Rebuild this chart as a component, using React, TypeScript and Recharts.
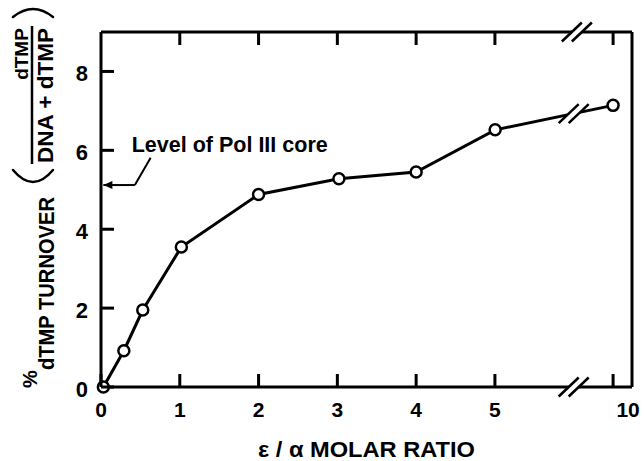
import { Line, LineChart, ReferenceDot, ReferenceLine, XAxis, YAxis } from "recharts";

// ε/α molar ratio vs % dTMP turnover
const ratio = [0.03, 0.29, 0.53, 1.02, 2.0, 3.02, 4.0, 5.01, 10];
const turnover = [0, 0.92, 1.95, 3.55, 4.88, 5.28, 5.45, 6.52, 7.14];
const xTickValues = [0, 1, 2, 3, 4, 5, 10];
const yTickValues = [0, 2, 4, 6, 8];

// x axis is linear up to 5, then squeezed after the break
const breakAt = 5;
const squeeze = 0.3;
const scaleX = (v: number) => (v <= breakAt ? v : breakAt + (v - breakAt) * squeeze);
const xMax = 6.74;
const yMax = 9;

// where the "//" break marks sit (in axis units)
const axisBreakX = 6.0;
const topBreakX = 6.04;
const lineBreak = { x: 6.0, y: 6.93 };

// "Level of Pol III core" arrow
const coreLevel = 5.12;
const arrowTipX = 0.03;
const arrowBendX = 0.43;
const arrowTop = { x: 0.63, y: 5.81 };
const noteAnchor = { x: 0.39, y: 5.97 };

const data = ratio.map((r, i) => ({ px: scaleX(r), turnover: turnover[i] }));
const xTicks = xTickValues.map(scaleX);

const FONT = '"Liberation Sans", Arial, Helvetica, sans-serif';
const ink = "#000";
const TICK = 13;

function tickLabel(v: number) {
  const i = xTicks.findIndex((t) => Math.abs(t - v) < 1e-6);
  return i >= 0 ? String(xTickValues[i]) : "";
}

// ticks point into the frame, so each tick component draws its own mark
function BottomTick({ x, y, payload }: any) {
  const label = tickLabel(payload.value);
  const shift = label === "10" ? 15 : 0;
  return (
    <g>
      <rect x={x - 1.5} y={y - TICK} width={3} height={TICK} fill={ink} />
      <text x={x + shift} y={y + 15} dy="0.71em" textAnchor="middle" fontFamily={FONT} fontWeight={700} fontSize={21} fill={ink}>
        {label}
      </text>
    </g>
  );
}

function TopTick({ x, y }: any) {
  return <rect x={x - 1.5} y={y} width={3} height={TICK} fill={ink} />;
}

function LeftTick({ x, y, payload }: any) {
  return (
    <g>
      <rect x={x} y={y - 1.5} width={TICK} height={3} fill={ink} />
      <text x={x - 13} y={y + 2} dy="0.355em" textAnchor="end" fontFamily={FONT} fontWeight={700} fontSize={22} fill={ink}>
        {payload.value}
      </text>
    </g>
  );
}

function RightTick({ x, y }: any) {
  return <rect x={x - TICK} y={y - 1.5} width={TICK} height={3} fill={ink} />;
}

function BreakMark({ cx, cy }: any) {
  if (cx == null || cy == null) return null;
  return (
    <g>
      <polygon points={`${cx - 15},${cy + 9.5} ${cx - 5},${cy + 9.5} ${cx + 15},${cy - 9.5} ${cx + 5},${cy - 9.5}`} fill="#fff" />
      <line x1={cx - 15} y1={cy + 9.5} x2={cx + 5} y2={cy - 9.5} stroke={ink} strokeWidth={2.5} />
      <line x1={cx - 5} y1={cy + 9.5} x2={cx + 15} y2={cy - 9.5} stroke={ink} strokeWidth={2.5} />
    </g>
  );
}

function ArrowSegment({ x1, y1, x2, y2 }: any) {
  const tipX = Math.min(x1, x2);
  const tipY = tipX === x1 ? y1 : y2;
  return (
    <g>
      <line x1={x1} y1={y1} x2={x2} y2={y2} stroke={ink} strokeWidth={2} />
      <polygon points={`${tipX},${tipY} ${tipX + 9},${tipY - 4} ${tipX + 9},${tipY + 4}`} fill={ink} />
    </g>
  );
}

function Segment({ x1, y1, x2, y2 }: any) {
  return <line x1={x1} y1={y1} x2={x2} y2={y2} stroke={ink} strokeWidth={2} />;
}

function NoteText({ cx, cy }: any) {
  if (cx == null || cy == null) return null;
  return (
    <text x={cx} y={cy} fontFamily={FONT} fontWeight={700} fontSize={22} fill={ink} textLength={196} lengthAdjust="spacingAndGlyphs">
      Level of Pol III core
    </text>
  );
}

const axisLine = { stroke: ink, strokeWidth: 3 };

export default function App() {
  const text = { fontFamily: FONT, fontWeight: 700, fill: ink };
  return (
    <div style={{ position: "absolute", left: 0, top: 0, width: 644, height: 461, background: "#fff" }}>
      <LineChart width={644} height={461} data={data} margin={{ top: 0, right: 0, bottom: 0, left: 0 }}>
        <XAxis
          type="number"
          dataKey="px"
          domain={[0, xMax]}
          ticks={xTicks}
          interval={0}
          height={74}
          axisLine={axisLine}
          tickLine={false}
          tickSize={0}
          tickMargin={0}
          tick={(p: any) => <BottomTick {...p} />}
        />
        <XAxis
          xAxisId="top"
          orientation="top"
          type="number"
          dataKey="px"
          domain={[0, xMax]}
          ticks={xTicks.slice(1)}
          interval={0}
          height={32}
          axisLine={axisLine}
          tickLine={false}
          tickSize={0}
          tickMargin={0}
          tick={(p: any) => <TopTick {...p} />}
        />
        <YAxis
          type="number"
          domain={[0, yMax]}
          ticks={yTickValues}
          interval={0}
          width={101}
          axisLine={axisLine}
          tickLine={false}
          tickSize={0}
          tickMargin={0}
          tick={(p: any) => <LeftTick {...p} />}
        />
        <YAxis
          yAxisId="right"
          orientation="right"
          type="number"
          domain={[0, yMax]}
          ticks={yTickValues.slice(1)}
          interval={0}
          width={12}
          axisLine={axisLine}
          tickLine={false}
          tickSize={0}
          tickMargin={0}
          tick={(p: any) => <RightTick {...p} />}
        />
        <Line
          type="linear"
          dataKey="turnover"
          stroke={ink}
          strokeWidth={3}
          dot={{ r: 5.5, fill: "#fff", stroke: ink, strokeWidth: 2.5 }}
          activeDot={false}
          isAnimationActive={false}
        />
        <ReferenceDot x={axisBreakX} y={0} r={0} ifOverflow="visible" shape={<BreakMark />} />
        <ReferenceDot x={topBreakX} y={yMax} r={0} ifOverflow="visible" shape={<BreakMark />} />
        <ReferenceDot x={lineBreak.x} y={lineBreak.y} r={0} ifOverflow="visible" shape={<BreakMark />} />
        <ReferenceLine
          segment={[{ x: arrowTipX, y: coreLevel }, { x: arrowBendX, y: coreLevel }]}
          ifOverflow="visible"
          shape={(p: any) => <ArrowSegment {...p} />}
        />
        <ReferenceLine
          segment={[{ x: arrowBendX, y: coreLevel }, { x: arrowTop.x, y: arrowTop.y }]}
          ifOverflow="visible"
          shape={(p: any) => <Segment {...p} />}
        />
        <ReferenceDot x={noteAnchor.x} y={noteAnchor.y} r={0} ifOverflow="visible" shape={<NoteText />} />
      </LineChart>
      <svg width={644} height={461} style={{ position: "absolute", left: 0, top: 0, pointerEvents: "none" }}>
        {/* rotated y-axis title: % dTMP TURNOVER (dTMP / DNA + dTMP) */}
        <text {...text} fontSize={20} transform="translate(30,379) rotate(-90)" textAnchor="middle" dominantBaseline="central">
          %
        </text>
        <text {...text} fontSize={22} transform="translate(46.5,283.5) rotate(-90)" textAnchor="middle" dominantBaseline="central" textLength={173} lengthAdjust="spacingAndGlyphs">
          dTMP TURNOVER
        </text>
        <text {...text} fontSize={19} transform="translate(21,54) rotate(-90)" textAnchor="middle" dominantBaseline="central">
          dTMP
        </text>
        <line x1={32} y1={26} x2={32} y2={164} stroke={ink} strokeWidth={2.5} />
        <text {...text} fontSize={22} transform="translate(45.5,95.5) rotate(-90)" textAnchor="middle" dominantBaseline="central" textLength={135} lengthAdjust="spacingAndGlyphs">
          DNA + dTMP
        </text>
        <path d="M13 17 Q33 1 53 17" fill="none" stroke={ink} strokeWidth={2.5} strokeLinecap="round" />
        <path d="M13 170 Q33 194 53 170" fill="none" stroke={ink} strokeWidth={2.5} strokeLinecap="round" />
        <text {...text} fontSize={22} x={366.5} y={456.5} textAnchor="middle" textLength={217} lengthAdjust="spacingAndGlyphs">
          ε / α MOLAR RATIO
        </text>
      </svg>
    </div>
  );
}
